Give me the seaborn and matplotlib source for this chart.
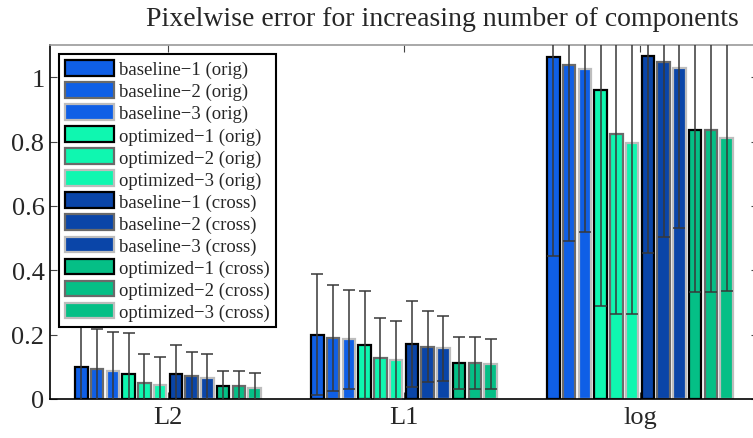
import matplotlib
matplotlib.use("Agg")
import matplotlib.pyplot as plt
import numpy as np
import pandas as pd
import seaborn as sns

metrics = ["L2", "L1", "log"]
series = [
    "baseline\u22121 (orig)", "baseline\u22122 (orig)", "baseline\u22123 (orig)",
    "optimized\u22121 (orig)", "optimized\u22122 (orig)", "optimized\u22123 (orig)",
    "baseline\u22121 (cross)", "baseline\u22122 (cross)", "baseline\u22123 (cross)",
    "optimized\u22121 (cross)", "optimized\u22122 (cross)", "optimized\u22123 (cross)",
]

# mean error per series
l2_mean = [0.098, 0.092, 0.087, 0.077, 0.049, 0.044, 0.078, 0.071, 0.065, 0.040, 0.039, 0.034]
l1_mean = [0.200, 0.190, 0.185, 0.169, 0.126, 0.120, 0.171, 0.162, 0.157, 0.113, 0.113, 0.108]
log_mean = [1.062, 1.038, 1.024, 0.960, 0.824, 0.797, 1.067, 1.046, 1.030, 0.836, 0.836, 0.810]

# std (error bar half length)
l2_std = [0.150, 0.126, 0.121, 0.128, 0.091, 0.086, 0.090, 0.075, 0.074, 0.047, 0.048, 0.046]
l1_std = [0.187, 0.165, 0.155, 0.168, 0.127, 0.121, 0.133, 0.110, 0.100, 0.081, 0.081, 0.077]
log_std = [0.619, 0.547, 0.504, 0.671, 0.561, 0.534, 0.614, 0.543, 0.499, 0.504, 0.504, 0.473]

ytick_vals = [0, 0.2, 0.4, 0.6, 0.8, 1.0]
ytick_labels = ["0", "0.2", "0.4", "0.6", "0.8", "1"]

fills = ["#0f5fe6"] * 3 + ["#0ff7b0"] * 3 + ["#0a45a8"] * 3 + ["#05bf86"] * 3
edges = ["#000000", "#6a6a6a", "#bdbdbd"] * 4

rows = []
for m, means, stds in zip(metrics, [l2_mean, l1_mean, log_mean], [l2_std, l1_std, log_std]):
    for s, v, e in zip(series, means, stds):
        rows.append({"metric": m, "series": s, "value": v, "std": e})
df = pd.DataFrame(rows)

sns.set_style("ticks")
plt.rcParams["font.family"] = ["Liberation Serif", "DejaVu Serif"]

fig = plt.figure(figsize=(7.53, 4.39), dpi=100)
ax = fig.add_axes([50 / 753, 39 / 439, 708 / 753, 354 / 439])

sns.barplot(data=df, x="metric", y="value", hue="series", hue_order=series,
            palette=fills, errorbar=None, gap=0.2, width=0.8, legend=False, ax=ax,
            saturation=1)

for cont, ec, s in zip(ax.containers, edges, series):
    sub = df[df["series"] == s]
    xs, ys = [], []
    for p in cont.patches:
        p.set_edgecolor(ec)
        p.set_linewidth(1.6)
        xs.append(p.get_x() + p.get_width() / 2)
        ys.append(p.get_height())
    ax.errorbar(xs, ys, yerr=sub["std"].values, fmt="none", ecolor="#383838",
                elinewidth=1.1, capsize=4, capthick=1.1, zorder=5)

ax.set_xlim(-0.5, 2.5)
ax.set_ylim(0, 1.1)
ax.set_yticks(ytick_vals)
ax.set_yticklabels(ytick_labels)
ax.set_xlabel("")
ax.set_ylabel("")
ax.tick_params(axis="both", direction="in", length=5, labelsize=19, top=True, right=True,
               color="#444444")
ax.tick_params(axis="x", pad=5)
ax.tick_params(axis="y", pad=4)
for side in ["left", "bottom"]:
    ax.spines[side].set_color("black")
    ax.spines[side].set_linewidth(1.2)
for side in ["top", "right"]:
    ax.spines[side].set_visible(True)
    ax.spines[side].set_color("#999999")
    ax.spines[side].set_linewidth(1.2)

leg = ax.legend(ax.containers, series, loc="upper left", fontsize=13.5,
                frameon=True, fancybox=False, framealpha=1, edgecolor="black",
                handlelength=2.6, handleheight=0.9, labelspacing=0.2,
                handletextpad=0.3, borderpad=0.3, borderaxespad=0.5)
leg.get_frame().set_linewidth(1.5)

fig.suptitle("Pixelwise error for increasing number of components", fontsize=20,
             x=0.588, y=0.985, va="top")

fig.savefig("out.png", dpi=100)
